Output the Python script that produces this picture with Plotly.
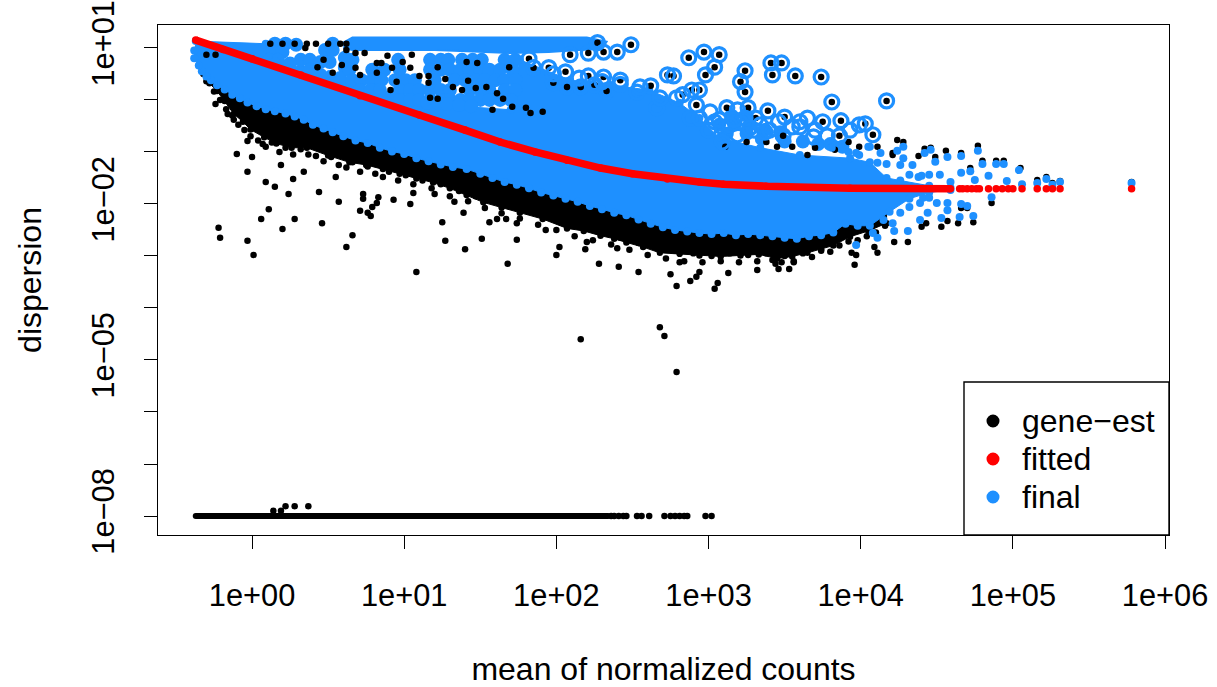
import plotly.graph_objects as go

# All values are log10(mean of normalized counts), log10(dispersion).
x_tick_exp = [0, 1, 2, 3, 4, 5, 6]
x_tick_text = ["1e+00", "1e+01", "1e+02", "1e+03", "1e+04", "1e+05", "1e+06"]
y_tick_exp = [1, 0, -1, -2, -3, -4, -5, -6, -7, -8]
y_tick_text = ["1e+01", "", "", "1e\u221202", "", "", "1e\u221205", "", "", "1e\u221208"]
legend_names = ["gene\u2212est", "fitted", "final"]

fit_x = [-0.37, -0.19, 0.0, 0.32, 0.71, 1.10, 1.40, 1.63, 1.86, 2.07, 2.29, 2.50, 2.73, 2.94, 3.10, 3.38, 3.93, 4.59]
fit_y = [1.15, 0.97, 0.79, 0.48, 0.08, -0.29, -0.58, -0.81, -1.00, -1.16, -1.31, -1.42, -1.52, -1.58, -1.62, -1.66, -1.70, -1.71]
fit_dots_x = [4.65, 4.67, 4.70, 4.73, 4.76, 4.78, 4.84, 4.89, 4.93, 4.97, 5.0, 5.06, 5.16, 5.22, 5.26, 5.31, 5.78]
fit_dots_y = [-1.71] * 17

black_lower_x = [-0.32, -0.28, -0.23, -0.18, -0.12, -0.06, -0.01, 0.08, 0.16, 0.26, 0.36, 0.50, 0.64, 0.75, 0.86, 0.97, 1.08, 1.19, 1.30, 1.41, 1.52, 1.64, 1.76, 1.91, 2.07, 2.18, 2.29, 2.38, 2.46, 2.57, 2.68, 2.81, 2.94, 3.08, 3.21, 3.33, 3.45, 3.55, 3.65, 3.74, 3.82, 3.93, 4.05, 4.17]
black_lower_y = [0.50, 0.32, 0.17, -0.02, -0.27, -0.42, -0.57, -0.72, -0.84, -0.92, -0.92, -1.07, -1.20, -1.25, -1.33, -1.42, -1.51, -1.59, -1.70, -1.83, -1.97, -2.07, -2.17, -2.29, -2.47, -2.52, -2.61, -2.67, -2.74, -2.83, -2.94, -2.96, -2.99, -3.01, -2.99, -2.97, -3.05, -3.01, -2.94, -2.87, -2.80, -2.63, -2.52, -2.37]
black_upper_x = [4.17, 3.5, 3.0, 2.0, 1.0, 0.0, -0.32]
black_upper_y = [-2.0, -2.3, -2.2, -1.6, -0.8, 0.1, 0.7]

blue_upper_x = [-0.37, 0.09, 0.11, 0.32, 0.51, 0.64, 0.97, 1.19, 1.41, 1.70, 1.76, 2.09, 2.35, 2.61, 2.81, 2.94, 3.07, 3.34, 3.60, 3.93, 4.06, 4.17, 4.26, 4.45, 4.59]
blue_upper_y = [1.13, 1.08, 0.81, 0.62, 0.50, 0.31, 0.12, 0.0, -0.13, -0.19, 0.77, 0.38, 0.29, 0.19, -0.06, -0.35, -0.73, -0.92, -1.06, -1.12, -1.20, -1.50, -1.55, -1.65, -1.69]
blue_lower_x = [-0.38, -0.38, -0.35, -0.33, -0.30, -0.27, -0.23, -0.18, -0.13, -0.08, -0.03, 0.03, 0.09, 0.15, 0.22, 0.28, 0.34, 0.40, 0.47, 0.53, 0.60, 0.68, 0.76, 0.84, 0.92, 1.00, 1.08, 1.16, 1.24, 1.32, 1.41, 1.50, 1.58, 1.66, 1.74, 1.82, 1.90, 1.98, 2.06, 2.14, 2.22, 2.30, 2.38, 2.46, 2.54, 2.62, 2.70, 2.78, 2.86, 2.94, 3.02, 3.10, 3.18, 3.26, 3.34, 3.42, 3.50, 3.58, 3.66, 3.74, 3.82, 3.90, 3.98, 4.06, 4.19, 4.32, 4.45, 4.59]
blue_lower_y = [0.95, 0.80, 0.66, 0.55, 0.45, 0.38, 0.28, 0.20, 0.10, 0.03, -0.05, -0.12, -0.18, -0.22, -0.26, -0.32, -0.38, -0.48, -0.55, -0.62, -0.70, -0.78, -0.83, -0.92, -0.99, -1.04, -1.12, -1.18, -1.24, -1.29, -1.33, -1.42, -1.50, -1.58, -1.63, -1.70, -1.78, -1.84, -1.90, -1.96, -2.04, -2.10, -2.17, -2.22, -2.30, -2.38, -2.45, -2.50, -2.53, -2.56, -2.58, -2.56, -2.60, -2.58, -2.60, -2.62, -2.65, -2.67, -2.62, -2.60, -2.55, -2.38, -2.42, -2.42, -2.15, -1.90, -1.78, -1.73]

top_band_x = [0.60, 0.66, 1.2, 1.8, 2.2, 2.33, 2.30, 2.15, 1.95, 1.70, 1.2, 0.66, 0.60]
top_band_y = [1.10, 1.20, 1.20, 1.20, 1.20, 1.12, 0.98, 0.96, 0.92, 0.90, 0.96, 0.96, 1.00]

blue_fill_x = [
    0.15, 0.22, 0.29, 0.53, 0.07, 0.13, 0.20, 0.11, 0.17, 0.48, 0.53, 0.32, 0.38, 0.45, 0.51, 0.61, 0.61, 0.38, 0.45, 0.58,
    0.66, 0.96, 1.17, 1.24, 1.29, 1.38, 1.45, 1.51, 1.66, 1.73,
    0.64, 0.79, 0.87, 0.97, 1.17, 1.24, 1.30, 1.37, 1.43, 1.50, 1.56, 1.63, 1.71,
    0.66, 0.72, 0.79, 0.85, 0.94, 1.01, 1.07, 1.20, 1.33, 1.40, 1.47, 1.53, 1.60, 1.66, 1.73,
    0.71, 0.78, 0.84, 0.97, 1.04, 1.10, 1.17, 1.24, 1.30, 1.43, 1.50, 1.56, 1.66, 1.73,
    0.97, 1.04, 1.10, 1.17, 1.24, 1.30, 1.37, 1.43, 1.50, 1.56, 1.63, 1.70,
    1.15, 1.22, 1.28, 1.36, 1.44, 0.15, 0.25, 0.05,
    3.07, 3.17, 3.27, 3.37, 3.47, 3.12, 3.25, 3.35, 3.50, 3.62, 3.72, 3.80, 3.88, 3.15, 3.25,
]
blue_fill_y = [
    1.08, 1.08, 1.06, 1.08, 0.92, 0.96, 0.92, 0.77, 0.77, 0.96, 0.96, 0.77, 0.77, 0.73, 0.73, 0.81, 0.62, 0.58, 0.48, 0.42,
    0.77, 0.77, 0.77, 0.77, 0.77, 0.77, 0.77, 0.77, 0.77, 0.77,
    0.58, 0.58, 0.58, 0.58, 0.58, 0.58, 0.58, 0.58, 0.58, 0.58, 0.58, 0.58, 0.58,
    0.38, 0.38, 0.38, 0.38, 0.38, 0.38, 0.38, 0.38, 0.38, 0.38, 0.38, 0.38, 0.38, 0.38, 0.38,
    0.19, 0.19, 0.19, 0.19, 0.19, 0.19, 0.19, 0.19, 0.19, 0.19, 0.19, 0.19, 0.19, 0.19,
    0.0, 0.0, 0.0, 0.0, 0.0, 0.0, 0.0, 0.0, 0.0, 0.0, 0.0, 0.0,
    -0.05, -0.05, -0.08, -0.10, -0.12, 0.68, 0.70, 0.95,
    -0.48, -0.48, -0.48, -0.58, -0.62, -0.65, -0.65, -0.75, -0.80, -0.80, -0.85, -0.85, -0.90, -0.30, -0.30,
]

blue_x = [5.78, 5.31, 5.26, 5.22, 5.16, 5.06, 5.04, 4.96, 4.94, 4.89, 4.84, 4.80, 4.77, 4.75, 4.72, 4.66, 4.66, 4.57, 4.49, 4.42, 4.46, 4.28, 4.24, 4.86, 4.70, 4.66, 4.74, 4.65, 4.31, 4.22, 4.11, 3.97, 4.08, 4.57, 4.57, 4.53, 4.44, 4.39, 4.50, 4.41, 4.45, 4.59, 4.52, 4.45, 4.40, 4.32, 4.38, 4.34, 4.28, 4.26, 4.17, 4.13, 4.06, 3.99, 4.32, 4.26, 4.15, 4.21, 4.39, 3.81, 3.92, 3.97, 4.05, 4.11]
blue_y = [-1.60, -1.58, -1.63, -1.52, -1.60, -1.62, -1.35, -1.56, -1.23, -1.23, -1.46, -1.23, -0.98, -1.54, -1.37, -1.40, -1.08, -1.10, -1.19, -1.02, -0.96, -0.90, -0.98, -1.87, -2.04, -2.00, -2.23, -2.25, -2.52, -2.52, -2.65, -2.79, -2.56, -1.98, -2.12, -2.27, -2.17, -2.31, -1.98, -1.88, -1.88, -1.58, -1.44, -1.44, -1.46, -1.44, -1.48, -1.25, -1.12, -1.25, -1.23, -1.02, -0.90, -1.06, -2.06, -2.17, -2.31, -2.37, -1.98, -0.92, -1.00, -1.02, -0.90, -1.21]

gene_x = [
    4.77, 4.80, 4.89, 4.94, 5.05, 5.16, 5.22, 5.26, 5.31, 5.78, 4.66, 4.72, 4.56, 4.49, 4.42, 4.46, 4.38, 4.24, 4.28, 4.21, 4.86, 4.74, 4.64, 4.66, 4.70, 4.53, 4.57, 4.40, 4.43, 4.31, 4.22, 4.09, 4.11, 3.94, 3.97, 3.96,
    -0.22, -0.21, -0.03, 0.01, 0.06, 0.11, 0.20, 0.28, 0.46, 0.24, 0.15, 0.09, -0.03, -0.10, 0.0, 0.19, 0.27, 0.34, 0.44, 0.57, 0.71, 0.76, 0.78, 0.79, 0.82, 0.83, 0.73, 0.73, 0.93, 1.04, 0.66, 0.62, 1.08, 1.25, 1.27, 1.40, 1.51, 1.39, 1.56, 1.61, 1.06, 1.20, 1.33, 0.55, -0.24, -0.16, -0.03, 0.07, -0.12,
    1.68, 1.74, 2.0, 2.02, 2.28, 2.41, 2.54, 2.75, 2.79, 2.88, 3.06, 3.04, 3.13, 2.94, 3.32, 3.46, 3.53, 3.48, 3.56, 3.42, 2.19, 2.20, 2.40, 1.93, 1.74, 1.67, 2.81, 2.92, 2.16, 2.68, 2.71, 2.79,
    0.14, 0.19, 0.22, 0.28, 0.37, 2.36, 2.38, 2.41, 2.44, 2.46, 2.53, 2.56, 2.61, 2.71, 2.75, 2.78, 2.81, 2.84, 2.86, 2.98, 3.02,
    -0.30, -0.25, -0.21, -0.17, -0.13, -0.09, -0.05, -0.01, 0.04, 0.09, 0.13, 0.18, 0.22, 0.27, 0.32, 0.37, 0.42, 0.47, 0.52, 0.57, 0.62, 0.66, 0.71, 0.76, 0.81, 0.86, 0.90, 0.96, 1.01, 1.06, 1.12, 1.18, 1.24, 1.30, 1.36, 1.42, 1.47, 1.53, 1.58, 1.64, 1.70, 1.76, 1.82, 1.88, 1.94, 2.0, 2.06, 2.12, 2.18, 2.24, 2.30, 2.36, 2.42, 2.48, 2.54, 2.60, 2.66, 2.72, 2.78, 2.84, 2.90, 2.96, 3.02, 3.08, 3.14, 3.2, 3.26, 3.32, 3.38, 3.44, 3.5, 3.56, 3.62, 3.68, 3.74, 3.8, 3.86, 3.92, 3.98, 4.04, 4.10, 4.16,
]
gene_y = [
    -0.88, -1.17, -1.17, -1.17, -1.31, -1.54, -1.48, -1.60, -1.56, -1.58, -1.02, -1.31, -0.98, -1.10, -0.94, -0.92, -1.08, -0.77, -0.81, -1.02, -1.98, -2.35, -2.37, -2.08, -2.08, -2.44, -2.33, -2.44, -2.37, -2.73, -2.73, -2.83, -2.94, -2.94, -2.98, -3.17,
    -2.46, -2.65, -2.71, -2.98, -2.29, -2.10, -2.48, -2.29, -2.37, -1.81, -1.67, -1.58, -1.38, -1.04, -1.10, -1.25, -1.52, -1.38, -1.77, -1.96, -2.13, -2.17, -2.23, -2.06, -1.98, -1.87, -1.81, -1.90, -1.92, -2.0, -2.60, -2.83, -3.31, -2.35, -2.71, -2.87, -2.67, -2.17, -2.35, -2.29, -1.79, -1.81, -1.96, -1.48, -0.08, -0.27, -0.79, -0.85, -0.38,
    -3.15, -2.69, -2.98, -2.83, -3.15, -3.21, -3.31, -3.35, -3.58, -3.48, -3.52, -3.63, -3.33, -3.31, -3.27, -3.25, -3.25, -3.12, -3.12, -3.08, -2.87, -2.73, -2.85, -2.50, -2.37, -2.29, -3.12, -3.40, -4.60, -4.37, -4.54, -5.23,
    -7.90, -7.90, -7.81, -7.81, -7.81, -8.0, -8.0, -8.0, -8.0, -8.0, -8.0, -8.0, -8.0, -8.0, -8.0, -8.0, -8.0, -8.0, -8.0, -8.0, -8.0,
    0.36, 0.16, 0.0, -0.18, -0.30, -0.48, -0.58, -0.70, -0.78, -0.90, -0.82, -1.0, -0.92, -1.05, -0.95, -1.05, -1.08, -1.18, -1.10, -1.25, -1.3, -1.2, -1.38, -1.28, -1.42, -1.48, -1.38, -1.55, -1.45, -1.62, -1.55, -1.7, -1.62, -1.85, -1.75, -1.95, -1.85, -2.08, -1.95, -2.18, -2.05, -2.28, -2.15, -2.4, -2.25, -2.5, -2.35, -2.62, -2.45, -2.7, -2.55, -2.78, -2.65, -2.88, -2.75, -2.98, -2.85, -3.05, -2.9, -3.1, -2.95, -3.12, -3.0, -3.1, -2.95, -3.12, -2.98, -3.1, -2.95, -3.15, -3.0, -3.1, -2.95, -3.02, -2.9, -2.92, -2.8, -2.72, -2.7, -2.62, -2.55, -2.42,
]
floor_x = [-0.37, -0.2, 0.0, 0.2, 0.4, 0.6, 0.8, 1.0, 1.2, 1.4, 1.6, 1.8, 2.0, 2.2, 2.34]
floor_y = [-8.0] * 15

# gene-est estimates still showing through the gaps of the final cloud
gap_x = [0.68, 0.74, 0.89, 1.05, 0.82, 0.85, 0.99, 0.92, 1.04, 1.10, 1.16, 1.27, 1.16, 1.42, 1.54, 1.32, 1.38, 1.47, 1.61, 1.65, 1.41, 1.48, 1.22, 1.69, 0.82, 0.71, 0.95, 0.91, 1.17, 1.22, 1.58, 1.71, 0.68,
         0.12, 0.20, 0.28, 0.36, 0.42, 0.50, 0.58, 0.62, 0.47, 0.53, 0.43, 0.62, 0.59, 0.35, -0.30, -0.24,
         1.80, 1.83, 1.91,
         3.11, 3.25, 3.38, 3.45, 3.55, 3.65, 3.92, 4.11, 4.21, 3.70, 3.83, 3.99]
gap_y = [0.90, 0.90, 0.85, 0.87, 0.71, 0.71, 0.73, 0.62, 0.62, 0.46, 0.46, 0.40, 0.33, 0.37, 0.25, 0.25, 0.19, 0.23, 0.13, 0.02, 0.73, 0.71, 0.63, 0.63, 0.52, 0.48, 0.35, 0.19, 0.04, 0.02, -0.19, -0.13, 0.62,
         1.08, 1.08, 1.08, 1.08, 1.08, 1.08, 1.08, 1.08, 0.77, 0.52, 0.63, 0.96, 0.67, 1.0, 0.87, 0.87,
         -0.15, -0.25, -0.23,
         -0.90, -0.81, -0.81, -0.90, -0.90, -1.06, -0.81, -0.90, -1.06, -0.92, -0.96, -0.90]

outlier_x = [2.49, 2.40, 2.31, 1.82, 1.85, 1.95, 2.06, 2.21, 2.31, 2.62, 2.33, 2.73, 2.77, 2.42, 2.07, 2.16, 2.25, 1.98, 2.21, 2.27, 2.09,
             2.87, 2.97, 3.07, 3.04, 2.98, 3.24, 3.21, 3.24, 3.41, 3.48, 3.42, 3.57, 3.74, 4.17, 3.81, 3.87, 4.03, 4.08, 3.75, 3.86, 3.49, 3.39, 2.92, 2.94, 2.89, 2.83, 3.12, 3.26, 3.31, 3.50]
outlier_y = [1.06, 0.92, 0.92, 0.79, 0.62, 0.62, 0.54, 0.46, 0.44, 0.27, 0.17, 0.48, 0.46, 0.38, 0.25, 0.25, 0.29, 0.33, 0.90, 1.10, 0.87,
             0.81, 0.92, 0.87, 0.63, 0.48, 0.56, 0.35, 0.15, 0.71, 0.71, 0.48, 0.46, 0.44, -0.02, -0.04, -0.40, -0.46, -0.67, -0.42, -0.69, -0.69, -0.21, -0.10, 0.19, 0.19, 0.10, -0.15, -0.15, -0.35, -0.33]
# rings whose centre is hidden by the neighbouring rings
ring_x = [2.66, 2.79, 2.68, 2.53, 3.19, 3.65, 3.46, 3.78, 3.04, 3.09, 3.21, 3.30, 3.37, 3.00, 2.88, 2.94, 3.55, 3.60, 3.69, 3.19, 3.09,
          3.07, 3.14, 3.24, 3.27, 3.34, 3.17, 3.01, 3.40, 3.60, 3.70, 3.93, 3.99, 2.55, 2.42, 2.30, 2.15, 1.98]
ring_y = [-0.15, 0.04, 0.04, 0.15, -0.19, -0.35, -0.42, -0.69, -0.42, -0.52, -0.44, -0.58, -0.62, -0.58, -0.35, -0.35, -0.52, -0.52, -0.71, -0.67, -0.81,
          -0.38, -0.48, -0.35, -0.54, -0.48, -0.38, -0.23, -0.58, -0.42, -0.58, -0.58, -0.48, 0.25, 0.30, 0.35, 0.42, 0.50]


def p(v):
    return [10 ** a for a in v]


BLACK = "#000000"
RED = "#ff0000"
BLUE = "#1e90ff"
FONT = "Liberation Sans"
SIZE = 32
TICK_SIZE = 30.8

fig = go.Figure()

# gene-wise estimates
fig.add_trace(go.Scatter(
    x=p(black_lower_x + black_upper_x), y=p(black_lower_y + black_upper_y), mode="lines+markers",
    fill="toself", fillcolor=BLACK, line=dict(color=BLACK, width=1), marker=dict(color=BLACK, size=6.5), hoverinfo="skip"))
fig.add_trace(go.Scatter(x=p(gene_x), y=p(gene_y), mode="markers", marker=dict(color=BLACK, size=6.5), hoverinfo="skip"))
fig.add_trace(go.Scatter(x=p(floor_x), y=p(floor_y), mode="lines+markers", line=dict(color=BLACK, width=6), marker=dict(color=BLACK, size=6), hoverinfo="skip"))

# final estimates: solid cloud
fig.add_trace(go.Scatter(
    x=p(blue_upper_x + blue_lower_x[::-1]), y=p(blue_upper_y + blue_lower_y[::-1]), mode="lines+markers",
    fill="toself", fillcolor=BLUE, line=dict(color=BLUE, width=1), marker=dict(color=BLUE, size=8), hoverinfo="skip"))
fig.add_trace(go.Scatter(
    x=p(top_band_x), y=p(top_band_y), mode="lines", fill="toself", fillcolor=BLUE,
    line=dict(color=BLUE, width=2), hoverinfo="skip"))
fig.add_trace(go.Scatter(x=p(blue_fill_x), y=p(blue_fill_y), mode="markers", marker=dict(color=BLUE, size=14), hoverinfo="skip"))
fig.add_trace(go.Scatter(x=p(gap_x), y=p(gap_y), mode="markers", marker=dict(color=BLACK, size=6.5), hoverinfo="skip"))
fig.add_trace(go.Scatter(x=p(blue_x), y=p(blue_y), mode="markers", marker=dict(color=BLUE, size=8), hoverinfo="skip"))

# outliers: black estimate inside a blue ring
fig.add_trace(go.Scatter(x=p(outlier_x), y=p(outlier_y), mode="markers", marker=dict(color=BLACK, size=6.5), hoverinfo="skip"))
fig.add_trace(go.Scatter(x=p(outlier_x + ring_x), y=p(outlier_y + ring_y), mode="markers",
                         marker=dict(symbol="circle-open", color=BLUE, size=14, line=dict(color=BLUE, width=3.2)), hoverinfo="skip"))

# fitted trend
fig.add_trace(go.Scatter(x=p(fit_x), y=p(fit_y), mode="lines+markers", line=dict(color=RED, width=7.5), marker=dict(color=RED, size=7.5), hoverinfo="skip"))
fig.add_trace(go.Scatter(x=p(fit_dots_x), y=p(fit_dots_y), mode="markers", marker=dict(color=RED, size=7.5), hoverinfo="skip"))

axis_common = dict(
    type="log", showgrid=False, zeroline=False, showline=True, linecolor=BLACK, linewidth=1.4,
    mirror=True, ticks="outside", ticklen=13, tickwidth=1.4, tickcolor=BLACK, tickmode="array",
    automargin=False, ticklabeloverflow="allow",
    tickfont=dict(family=FONT, size=TICK_SIZE, color=BLACK),
)

shapes = [dict(type="rect", xref="paper", yref="paper", x0=(964 - 158) / 1011, x1=1, y0=0, y1=(535 - 382) / 510,
               line=dict(color=BLACK, width=1.4), fillcolor="white", layer="above")]
annotations = []
key_colors = [BLACK, RED, BLUE]
key_rows = [421, 459, 497]
for name, colour, row in zip(legend_names, key_colors, key_rows):
    cy = (535 - row) / 510
    shapes.append(dict(type="circle", xref="paper", yref="paper", layer="above",
                       x0=(986.5 - 158) / 1011, x1=(999.5 - 158) / 1011, y0=cy - 6.5 / 510, y1=cy + 6.5 / 510,
                       fillcolor=colour, line=dict(width=0)))
    annotations.append(dict(xref="paper", yref="paper", x=(1022 - 158) / 1011, y=cy, text=name, showarrow=False,
                            xanchor="left", yanchor="middle", xshift=-2, font=dict(family=FONT, size=SIZE, color=BLACK)))

fig.update_layout(
    width=1217, height=687, autosize=False, showlegend=False,
    paper_bgcolor="white", plot_bgcolor="white",
    margin=dict(l=158, r=48, t=25, b=152, pad=0),
    shapes=shapes, annotations=annotations,
    xaxis=dict(axis_common, range=[-0.618, 6.026], tickvals=p(x_tick_exp), ticktext=x_tick_text, ticklabelstandoff=20,
               title=dict(text="mean of normalized counts", standoff=47, font=dict(family=FONT, size=SIZE, color=BLACK))),
    yaxis=dict(axis_common, range=[-8.365, 1.44], tickvals=p(y_tick_exp), ticktext=y_tick_text, tickangle=-90, ticklabelstandoff=17,
               title=dict(text="dispersion", standoff=35, font=dict(family=FONT, size=SIZE, color=BLACK))),
)

fig.write_html("out.html", post_script="document.body.style.margin='0';", config=dict(displayModeBar=False))
